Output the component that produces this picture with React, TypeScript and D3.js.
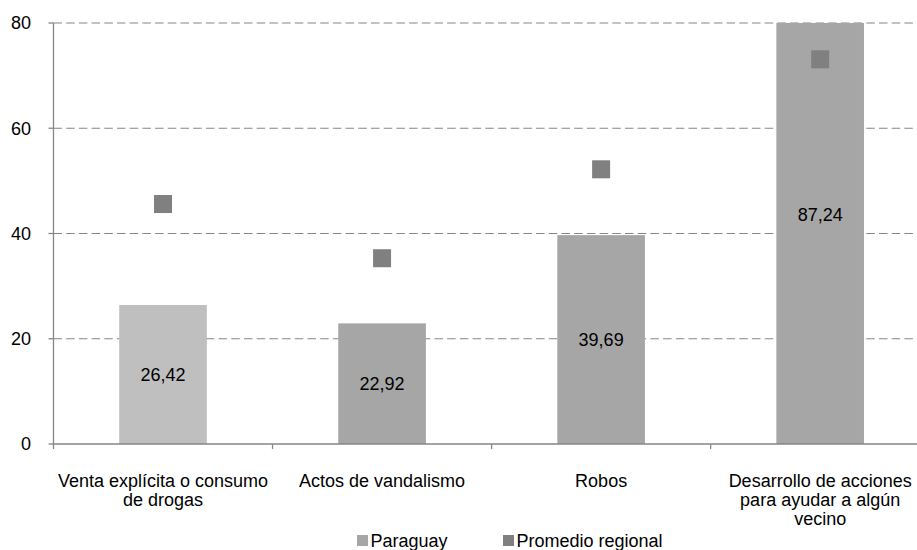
import React from "react";
import * as d3 from "d3";

const categories: string[][] = [
  ["Venta explícita o consumo", "de drogas"],
  ["Actos de vandalismo"],
  ["Robos"],
  ["Desarrollo de acciones", "para ayudar a algún", "vecino"],
];
const paraguay = [26.42, 22.92, 39.69, 87.24];
const promedio = [45.6, 35.3, 52.2, 73.1];
const yTicks = [0, 20, 40, 60, 80];
const barColors = ["#bfbfbf", "#a6a6a6", "#a6a6a6", "#a6a6a6"];
const seriesNames = ["Paraguay", "Promedio regional"];

const W = 917;
const H = 550;
const left = 53.5;
const right = 929.7;
const top = 23;
const bottom = 444;
const font = "'Liberation Sans', Arial, sans-serif";

export default function App() {
  const x = d3
    .scaleBand<number>()
    .domain(categories.map((_, i) => i))
    .range([left, right])
    .padding(0);
  const y = d3.scaleLinear().domain([0, 80]).range([bottom, top]);
  const bw = x.bandwidth() * 0.4;
  const fmt = (v: number) => v.toFixed(2).replace(".", ",");
  const boundaries = d3.range(categories.length + 1).map((i) => left + i * x.step());

  return (
    <svg width={W} height={H} style={{ position: "absolute", left: 0, top: 0 }} fontFamily={font}>
      <defs>
        <clipPath id="plot">
          <rect x={left} y={top} width={right - left} height={bottom - top} />
        </clipPath>
      </defs>
      {/* gridlines */}
      {yTicks.filter((t) => t > 0).map((t) => (
        <line key={t} x1={left} x2={right} y1={y(t)} y2={y(t)} stroke="#868686" strokeWidth={1.2} strokeDasharray="8.5,4.2" />
      ))}
      {/* bars */}
      <g clipPath="url(#plot)">
        {paraguay.map((v, i) => {
          const cx = (x(i) as number) + x.bandwidth() / 2;
          return <rect key={i} x={cx - bw / 2} y={y(v)} width={bw} height={bottom - y(v)} fill={barColors[i]} />;
        })}
      </g>
      {/* bar labels */}
      {paraguay.map((v, i) => {
        const cx = (x(i) as number) + x.bandwidth() / 2;
        return (
          <text key={i} x={cx} y={(y(v) + bottom) / 2} dy="0.35em" textAnchor="middle" fontSize={18} fill="#000">
            {fmt(v)}
          </text>
        );
      })}
      {/* markers */}
      {promedio.map((v, i) => {
        const cx = (x(i) as number) + x.bandwidth() / 2;
        return <rect key={i} x={cx - 9} y={y(v) - 9} width={18} height={18} fill="#808080" />;
      })}
      {/* axes */}
      <line x1={left} x2={left} y1={top} y2={bottom} stroke="#868686" strokeWidth={1.3} />
      <line x1={left} x2={right} y1={bottom} y2={bottom} stroke="#868686" strokeWidth={1.3} />
      {yTicks.map((t) => (
        <g key={t}>
          <line x1={left - 5} x2={left} y1={y(t)} y2={y(t)} stroke="#868686" strokeWidth={1.3} />
          <text x={31} y={y(t)} dy="0.35em" textAnchor="end" fontSize={18} fill="#000">
            {t}
          </text>
        </g>
      ))}
      {boundaries.map((bx, i) => (
        <line key={i} x1={bx} x2={bx} y1={bottom} y2={bottom + 5} stroke="#868686" strokeWidth={1.3} />
      ))}
      {/* category labels */}
      {categories.map((lines, i) => {
        const cx = (x(i) as number) + x.bandwidth() / 2;
        return (
          <text key={i} textAnchor="middle" fontSize={18} fill="#000">
            {lines.map((l, j) => (
              <tspan key={j} x={cx} y={487 + j * 19}>
                {l}
              </tspan>
            ))}
          </text>
        );
      })}
      {/* legend */}
      <rect x={357} y={535} width={11} height={11} fill="#a6a6a6" />
      <text x={370.5} y={547} fontSize={18} fill="#000">{seriesNames[0]}</text>
      <rect x={503} y={535} width={11} height={11} fill="#808080" />
      <text x={516.5} y={547} fontSize={18} fill="#000">{seriesNames[1]}</text>
    </svg>
  );
}
